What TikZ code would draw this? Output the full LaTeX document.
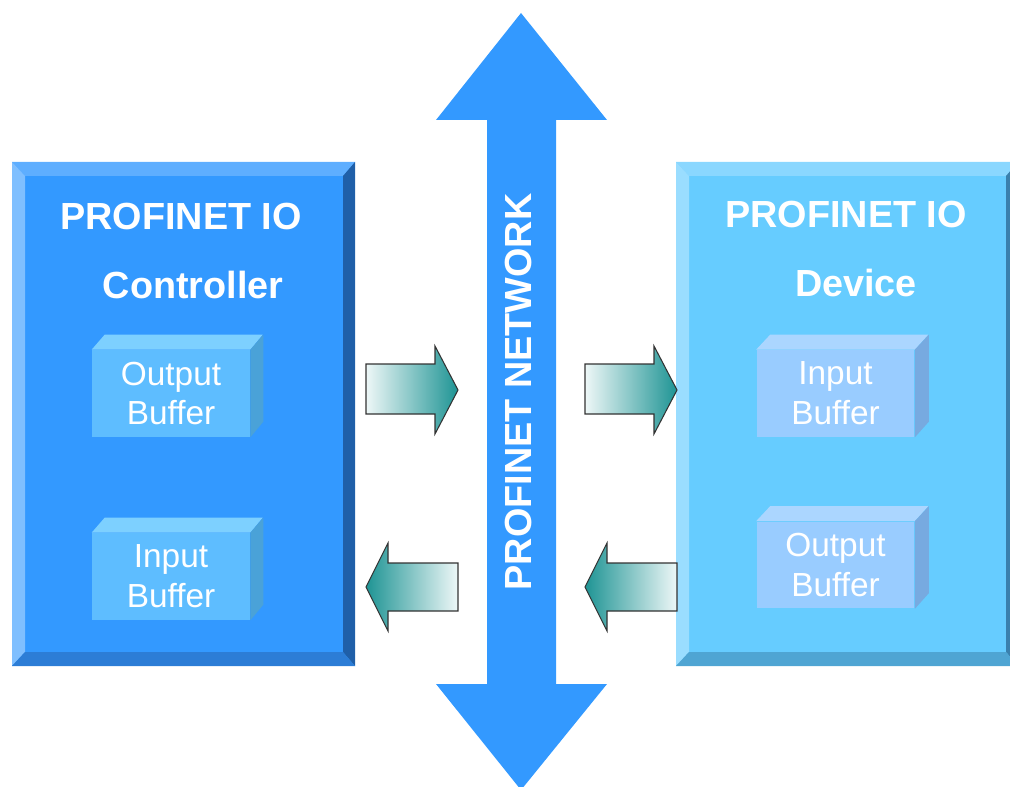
\documentclass[tikz,border=0pt]{standalone}
\usepackage{fontspec}
\setmainfont{Liberation Sans}
\usetikzlibrary{positioning}
\definecolor{ctrlface}{HTML}{3399FF}
\definecolor{ctrltop}{HTML}{5EAEFF}
\definecolor{ctrlleft}{HTML}{7FBFFF}
\definecolor{ctrlright}{HTML}{1F5FA8}
\definecolor{ctrlbot}{HTML}{2C7DD6}
\definecolor{devface}{HTML}{66CCFF}
\definecolor{devtop}{HTML}{8AD7FF}
\definecolor{devleft}{HTML}{9ADDFF}
\definecolor{devright}{HTML}{3A80AD}
\definecolor{devbot}{HTML}{4FA5D3}
\definecolor{bufLfront}{HTML}{5EBDFF}
\definecolor{bufLtop}{HTML}{7DD0FF}
\definecolor{bufLside}{HTML}{4AA2D8}
\definecolor{bufRfront}{HTML}{99CCFF}
\definecolor{bufRtop}{HTML}{ABD6FF}
\definecolor{bufRside}{HTML}{77AAE0}
\definecolor{teal}{HTML}{1E9494}
\definecolor{pale}{HTML}{EEF7F7}
\definecolor{edge}{HTML}{333333}
\begin{document}
\begin{tikzpicture}[x=0.02cm,y=-0.02cm,
  head/.style={font=\bfseries\fontsize{21.5}{25}\selectfont,text=white,inner sep=0pt},
  buf/.style={font=\fontsize{19}{22.7}\selectfont,text=white,align=center,
    minimum width=3.16cm,minimum height=1.74cm,inner sep=0pt},
  flow/.style={draw=edge,line width=0.6pt,line join=miter}]
\useasboundingbox (0,0) rectangle (1010,787);
% controller box
\fill[ctrlface] (12,162) rectangle (355,666);
\fill[ctrltop] (12,162) -- (355,162) -- (343,176) -- (25,176) -- cycle;
\fill[ctrlleft] (12,162) -- (25,176) -- (25,652) -- (12,666) -- cycle;
\fill[ctrlright] (355,162) -- (355,666) -- (343,652) -- (343,176) -- cycle;
\fill[ctrlbot] (12,666) -- (355,666) -- (343,652) -- (25,652) -- cycle;
\node[head] (ctitle) at (181,216) {PROFINET IO};
\node[head] (csub) at (193,285) {Controller};
% device box
\fill[devface] (676,162) rectangle (1018,666);
\fill[devtop] (676,162) -- (1018,162) -- (1006,176) -- (689,176) -- cycle;
\fill[devleft] (676,162) -- (689,176) -- (689,652) -- (676,666) -- cycle;
\fill[devright] (1018,162) -- (1018,666) -- (1006,652) -- (1006,176) -- cycle;
\fill[devbot] (676,666) -- (1018,666) -- (1006,652) -- (689,652) -- cycle;
\node[head] (dtitle) at (846,214) {PROFINET IO};
\node[head] (dsub) at (856,283) {Device};
% buffers
\node[buf,fill=bufLfront] (cout) at (171,393.5) {Output\\Buffer};
\fill[bufLtop] (cout.north west) -- ++(13,-15) -- ++(158,0) -- (cout.north east) -- cycle;
\fill[bufLside] (cout.north east) -- ++(13,-15) -- ++(0,87) -- (cout.south east) -- cycle;
\node[buf,fill=bufLfront] (cin) at (171,576.5) {Input\\Buffer};
\fill[bufLtop] (cin.north west) -- ++(13,-15) -- ++(158,0) -- (cin.north east) -- cycle;
\fill[bufLside] (cin.north east) -- ++(13,-15) -- ++(0,87) -- (cin.south east) -- cycle;
\node[buf,fill=bufRfront] (din) at (835.5,393.5) {Input\\Buffer};
\fill[bufRtop] (din.north west) -- ++(14,-15) -- ++(158,0) -- (din.north east) -- cycle;
\fill[bufRside] (din.north east) -- ++(14,-15) -- ++(0,87) -- (din.south east) -- cycle;
\node[buf,fill=bufRfront] (dout) at (835.5,565) {Output\\Buffer};
\fill[bufRtop] (dout.north west) -- ++(14,-15) -- ++(158,0) -- (dout.north east) -- cycle;
\fill[bufRside] (dout.north east) -- ++(14,-15) -- ++(0,87) -- (dout.south east) -- cycle;
% network
\fill[ctrlface] (487,120) -- (436,120) -- (521,13) -- (607,120) -- (556,120)
  -- (556,684) -- (607,684) -- (521,790) -- (436,684) -- (487,684) -- cycle;
\node[head,rotate=90] (net) at (518,392) {PROFINET NETWORK};
% data flow
\foreach \ax in {366,585}
  \shadedraw[flow,left color=pale,right color=teal]
    (\ax,364) -- (\ax+69,364) -- (\ax+69,346) -- (\ax+92,390) -- (\ax+69,434)
    -- (\ax+69,414) -- (\ax,414) -- cycle;
\foreach \ax in {366,585}
  \shadedraw[flow,left color=teal,right color=pale]
    (\ax,587) -- (\ax+22,543) -- (\ax+22,563) -- (\ax+92,563) -- (\ax+92,611)
    -- (\ax+22,611) -- (\ax+22,631) -- cycle;
\end{tikzpicture}
\end{document}
